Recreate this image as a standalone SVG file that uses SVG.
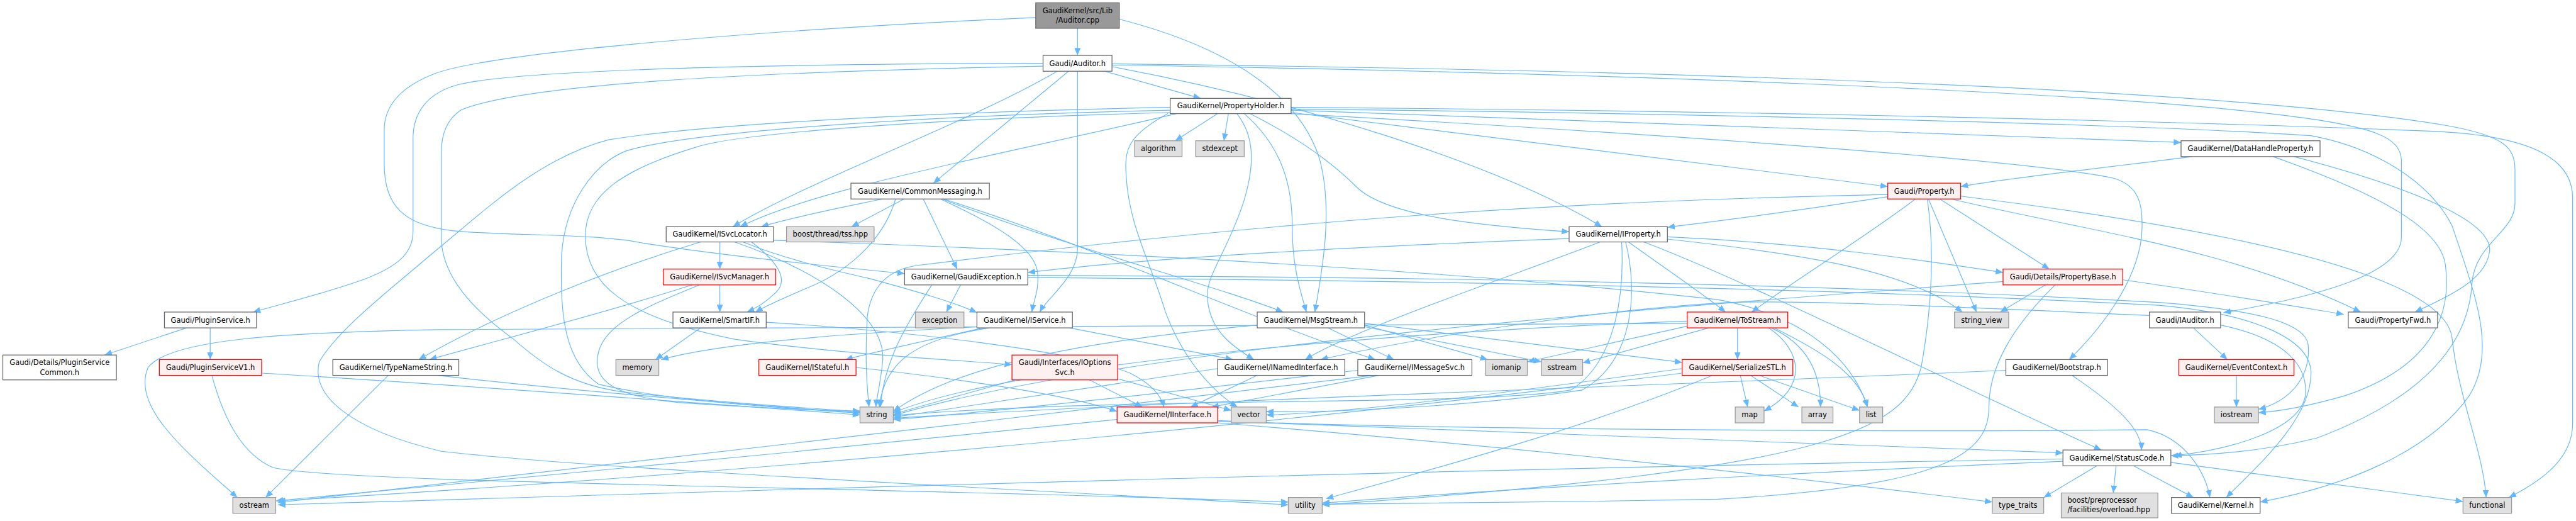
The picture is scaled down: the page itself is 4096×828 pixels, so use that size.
<svg xmlns="http://www.w3.org/2000/svg" width="4096" height="828" viewBox="0 0 4096 828">
<style>
.n rect{fill:#fff;stroke:#666;stroke-width:1.4}
.x rect{fill:#e0e0e0;stroke:#999;stroke-width:1.4}
.r rect{fill:#fff0f0;stroke:#f00;stroke-width:1.4}
.m rect{fill:#999;stroke:#666;stroke-width:1.4}
text{font-family:"DejaVu Sans","Liberation Sans",sans-serif;font-size:12.8px;fill:#000;text-anchor:middle}
#edges path{fill:none;stroke:#63b8ff;stroke-width:1.3;marker-end:url(#a)}
</style>
<defs>
<marker id="a" markerUnits="userSpaceOnUse" markerWidth="14" markerHeight="12" refX="13" refY="6" orient="auto" viewBox="0 0 14 12"><path d="M0,0.5 L13,6 L0,11.5 z" fill="#63b8ff"/></marker>
</defs>
<rect width="4096" height="828" fill="#fff"/>
<g transform="scale(0.898442)">
<g id="edges">
<path d="M1907,50 L1907,98"/>
<path d="M1981,34 C2180,85 2300,170 2335,280 C2360,370 2340,480 2327,552"/>
<path d="M1833,31 C1400,50 880,90 770,130 C705,155 680,190 680,230 L680,290 C680,365 715,398 800,408 C900,418 1050,412 1138,430 C1300,455 1480,472 1601,484"/>
<path d="M1955,126 L2125,174"/>
<path d="M1891,126 L1652,324"/>
<path d="M1871,126 C1720,215 1430,320 1297,401"/>
<path d="M1907,126 L1907,440 C1907,490 1855,525 1840,552"/>
<path d="M1968,118 C2300,180 2650,290 2835,401"/>
<path d="M1846,112 C1400,113 920,122 810,150 C755,165 731,200 731,245 L731,410 C731,450 700,472 650,492 C580,518 500,537 448,552"/>
<path d="M1846,117 C1300,128 920,150 815,195 C790,212 781,240 781,270 L781,420 C781,490 840,550 909,600 C960,645 1010,680 1100,693 C1250,710 1400,720 1522,728"/>
<path d="M1968,115 C2800,128 3700,160 4050,205 C4200,224 4250,242 4250,285 L4250,420 C4250,485 4100,525 3935,553"/>
<path d="M1968,113 C2800,122 3900,150 4330,222 C4430,240 4451,260 4451,300 L4451,360 C4451,410 4381,430 4375,500 C4370,600 4300,700 4100,775 C4000,800 3900,805 3842,806"/>
<path d="M2155,201 L2080,249"/>
<path d="M2174,201 L2166,249"/>
<path d="M2082,201 C1800,268 1450,330 1310,401"/>
<path d="M2212,201 C2300,245 2360,290 2400,330 C2450,380 2600,398 2777,410"/>
<path d="M2202,201 C2270,260 2287,330 2287,400 C2287,470 2300,510 2312,552"/>
<path d="M2285,199 L3341,330"/>
<path d="M2285,195 L3860,252"/>
<path d="M2285,190 C3000,195 3800,212 4300,232 C4500,240 4553,290 4553,350 L4553,750 C4553,810 4500,850 4440,880"/>
<path d="M2285,193 C3000,200 3800,220 4090,240 C4200,260 4300,320 4340,400 C4380,520 4420,620 4370,700 C4300,800 4150,860 4000,888"/>
<path d="M2067,201 C1995,240 1990,265 1993,310 C1998,400 2035,460 2062,550 C2095,640 2150,695 2190,720"/>
<path d="M2189,201 C2220,240 2222,290 2200,360 C2170,450 2132,490 2137,530 C2142,585 2180,612 2219,636"/>
<path d="M2071,190 C1800,195 1300,212 1078,247 C950,280 850,380 763,450 C700,505 600,580 565,640 C550,700 620,760 780,798 C1000,825 1600,855 2280,893"/>
<path d="M2071,195 C1600,205 1210,235 1108,267 C1050,290 1000,360 994,450 C990,560 1000,640 1060,680 C1200,712 1400,722 1522,731"/>
<path d="M2071,199 C1600,212 1300,238 1233,260 C1100,300 1036,345 1036,417 C1036,500 1100,560 1300,600 C1500,628 1700,637 1791,645"/>
<path d="M2285,201 C3000,240 3600,285 3740,315 C3785,328 3795,360 3790,420 C3780,500 3720,580 3662,636"/>
<path d="M1562,352 C1500,365 1420,380 1347,401"/>
<path d="M1600,352 L1507,401"/>
<path d="M1634,352 L1694,476"/>
<path d="M1664,352 C1770,400 1830,440 1836,480 C1840,510 1830,530 1826,552"/>
<path d="M1667,352 C1900,440 2150,505 2271,552"/>
<path d="M1670,352 C1950,440 2200,560 2434,636"/>
<path d="M1585,352 C1565,420 1510,470 1450,500 C1400,522 1360,538 1337,552"/>
<path d="M1274,428 L1274,476"/>
<path d="M1240,428 C1100,470 900,545 741,636"/>
<path d="M1330,428 C1385,470 1395,500 1370,520 C1355,535 1338,545 1322,552"/>
<path d="M1315,428 C1380,455 1460,475 1540,493 C1620,515 1690,535 1729,553"/>
<path d="M1369,425 C1800,440 2500,470 3040,530 C3200,560 3280,640 3305,720"/>
<path d="M1300,428 C1450,480 1570,560 1562,640 C1558,680 1552,700 1550,720"/>
<path d="M1274,504 L1274,552"/>
<path d="M1225,504 C1050,560 850,610 760,636"/>
<path d="M1238,504 C1150,540 1075,570 1060,620 C1045,670 1080,700 1200,712 C1350,722 1450,726 1522,727"/>
<path d="M1240,580 L1160,636"/>
<path d="M1356,570 C1600,585 1900,620 2000,660 C2040,680 2055,700 2060,720"/>
<path d="M1700,504 L1675,552"/>
<path d="M1649,504 C1600,580 1565,640 1558,720"/>
<path d="M1819,487 C2500,490 3200,500 3820,535 C3990,548 4080,570 4085,610 C4090,670 4050,710 3997,724"/>
<path d="M1819,491 C2500,496 3200,508 3820,540 C3990,555 4090,600 4090,660 C4090,740 4000,820 3940,880"/>
<path d="M1740,580 C1650,600 1560,620 1496,636"/>
<path d="M1729,578 C1600,585 1300,600 1170,636"/>
<path d="M1751,580 C1620,600 1565,640 1556,720"/>
<path d="M1893,580 L2182,636"/>
<path d="M1928,672 L2022,720"/>
<path d="M1796,672 C1700,700 1620,720 1581,733"/>
<path d="M1978,670 L2179,726"/>
<path d="M1515,650 C1700,670 1900,700 1977,728"/>
<path d="M1977,742 C1500,790 900,850 488,886"/>
<path d="M2155,745 C2700,765 3300,790 3651,801"/>
<path d="M2155,748 C2800,800 3300,860 3526,888"/>
<path d="M2155,744 C2500,760 3400,765 3800,760 C3870,775 3905,840 3911,880"/>
<path d="M2350,580 L2467,636"/>
<path d="M2415,575 L2633,636"/>
<path d="M2415,578 L2728,640"/>
<path d="M2415,572 L2977,641"/>
<path d="M2225,575 C1950,600 1700,640 1581,728"/>
<path d="M2225,664 L2107,720"/>
<path d="M2155,652 C1900,690 1700,720 1581,738"/>
<path d="M2403,655 C2100,690 1800,725 1581,742"/>
<path d="M2440,664 C2300,690 2200,710 2144,720"/>
<path d="M2430,664 C1800,740 1000,830 492,889"/>
<path d="M3075,580 L3075,636"/>
<path d="M2986,577 L2703,640"/>
<path d="M3024,580 L2801,642"/>
<path d="M3130,580 C3190,620 3200,685 3122,727"/>
<path d="M3135,580 C3200,610 3222,660 3222,720"/>
<path d="M3140,580 C3220,620 3290,660 3305,720"/>
<path d="M2986,568 C2500,585 1800,640 1581,730"/>
<path d="M2986,572 C2000,578 1000,580 780,583 C500,588 300,600 262,650 C232,720 330,800 420,880"/>
<path d="M3031,664 C2800,760 2500,840 2347,882"/>
<path d="M3080,664 L3093,720"/>
<path d="M3098,664 L3183,720"/>
<path d="M3113,664 L3291,726"/>
<path d="M2977,652 C2700,690 2400,730 2241,734"/>
<path d="M2977,660 C2200,760 1200,845 492,886"/>
<path d="M3341,348 C3200,370 3050,390 2951,402"/>
<path d="M3390,352 C3300,420 3200,480 3100,552"/>
<path d="M3413,352 L3498,552"/>
<path d="M3433,352 L3627,476"/>
<path d="M3453,352 C3700,410 3950,440 4178,552"/>
<path d="M3411,352 C3425,450 3418,550 3400,650 C3370,760 3250,830 2340,893"/>
<path d="M3341,344 C2800,355 2300,385 1620,470 C1560,480 1540,520 1535,560 C1530,640 1535,690 1538,720"/>
<path d="M3470,347 C3900,400 4330,480 4340,600 C4350,700 4395,800 4400,880"/>
<path d="M2832,428 C2700,480 2400,580 2310,636"/>
<path d="M2882,428 C2940,470 3000,510 3054,552"/>
<path d="M2909,428 C3100,500 3500,700 3719,796"/>
<path d="M2777,422 C2300,440 2000,460 1819,482"/>
<path d="M2951,419 C3200,430 3400,460 3545,482"/>
<path d="M2951,423 C3200,450 3380,480 3473,552"/>
<path d="M2870,428 C2875,520 2860,640 2780,690 C2600,720 2000,700 1581,735"/>
<path d="M2877,428 C2900,520 2890,640 2800,690 C2600,720 2350,730 2241,728"/>
<path d="M3620,504 L3540,552"/>
<path d="M3757,495 C3900,515 4050,540 4148,556"/>
<path d="M3637,504 C3560,580 3520,650 3520,720 C3520,800 3450,860 3040,883 C2800,888 2500,890 2340,892"/>
<path d="M3545,498 C3000,540 2000,610 1581,735"/>
<path d="M3667,664 C3750,720 3790,760 3790,796"/>
<path d="M3550,655 C3000,680 2000,712 1581,740"/>
<path d="M3880,277 C3700,300 3550,315 3470,330"/>
<path d="M4023,277 C4200,340 4320,400 4328,470 C4340,560 4300,650 4150,700 C4080,720 4030,728 3997,730"/>
<path d="M4060,277 C4300,340 4420,400 4405,450 C4395,500 4320,530 4274,552"/>
<path d="M3882,580 L3942,636"/>
<path d="M3930,575 C4050,600 4085,650 4080,700 C4070,760 3950,795 3848,806"/>
<path d="M3804,558 C3500,545 3200,530 3060,535 C2800,550 2500,600 2337,636"/>
<path d="M3958,664 L3958,720"/>
<path d="M3651,812 C2500,830 1200,872 492,893"/>
<path d="M3711,824 L3617,880"/>
<path d="M3745,824 L3740,872"/>
<path d="M3776,824 L3882,880"/>
<path d="M3842,818 C4000,840 4200,865 4359,887"/>
<path d="M3651,816 C3200,835 2700,862 2340,890"/>
<path d="M330,580 L185,628"/>
<path d="M372,580 L372,636"/>
<path d="M375,664 C390,720 420,800 483,827 C600,855 1500,860 2280,888"/>
<path d="M463,660 C800,680 1200,710 1522,734"/>
<path d="M687,664 L470,880"/>
<path d="M775,664 C1000,690 1300,715 1522,730"/>
</g>
<g id="n0" class="m"><rect x="1833" y="5" width="148" height="45"/><text x="1907" y="23">GaudiKernel/src/Lib</text><text x="1907" y="40">/Auditor.cpp</text></g>
<g id="n1" class="n"><rect x="1846" y="98" width="122" height="28"/><text x="1907" y="116.5">Gaudi/Auditor.h</text></g>
<g id="n2" class="n"><rect x="2071" y="174" width="214" height="27"/><text x="2178" y="192">GaudiKernel/PropertyHolder.h</text></g>
<g id="n3" class="x"><rect x="2008" y="249" width="84" height="28"/><text x="2050" y="267.5">algorithm</text></g>
<g id="n4" class="x"><rect x="2116" y="249" width="86" height="28"/><text x="2159" y="267.5">stdexcept</text></g>
<g id="n5" class="n"><rect x="1506" y="324" width="245" height="28"/><text x="1628.5" y="342.5">GaudiKernel/CommonMessaging.h</text></g>
<g id="n6" class="n"><rect x="3860" y="249" width="246" height="28"/><text x="3983" y="267.5">GaudiKernel/DataHandleProperty.h</text></g>
<g id="n7" class="r"><rect x="3341" y="324" width="129" height="28"/><text x="3405.5" y="342.5">Gaudi/Property.h</text></g>
<g id="n8" class="n"><rect x="1179" y="401" width="190" height="27"/><text x="1274" y="419">GaudiKernel/ISvcLocator.h</text></g>
<g id="n9" class="x"><rect x="1392" y="401" width="155" height="27"/><text x="1469.5" y="419">boost/thread/tss.hpp</text></g>
<g id="n10" class="n"><rect x="2777" y="401" width="174" height="27"/><text x="2864" y="419">GaudiKernel/IProperty.h</text></g>
<g id="n11" class="n"><rect x="291" y="552" width="163" height="28"/><text x="372.5" y="570.5">Gaudi/PluginService.h</text></g>
<g id="n12" class="n"><rect x="5" y="628" width="201" height="44"/><text x="105.5" y="646">Gaudi/Details/PluginService</text><text x="105.5" y="663">Common.h</text></g>
<g id="n13" class="r"><rect x="282" y="636" width="181" height="28"/><text x="372.5" y="654.5">Gaudi/PluginServiceV1.h</text></g>
<g id="n14" class="n"><rect x="589" y="636" width="223" height="28"/><text x="700.5" y="654.5">GaudiKernel/TypeNameString.h</text></g>
<g id="n15" class="x"><rect x="412" y="880" width="76" height="28"/><text x="450" y="898.5">ostream</text></g>
<g id="n16" class="r"><rect x="1174" y="476" width="199" height="28"/><text x="1273.5" y="494.5">GaudiKernel/ISvcManager.h</text></g>
<g id="n17" class="n"><rect x="1191" y="552" width="165" height="28"/><text x="1273.5" y="570.5">GaudiKernel/SmartIF.h</text></g>
<g id="n18" class="x"><rect x="1090" y="636" width="76" height="28"/><text x="1128" y="654.5">memory</text></g>
<g id="n19" class="r"><rect x="1343" y="636" width="172" height="28"/><text x="1429" y="654.5">GaudiKernel/IStateful.h</text></g>
<g id="n20" class="x"><rect x="1522" y="720" width="59" height="28"/><text x="1551.5" y="738.5">string</text></g>
<g id="n21" class="n"><rect x="1601" y="476" width="218" height="28"/><text x="1710" y="494.5">GaudiKernel/GaudiException.h</text></g>
<g id="n22" class="x"><rect x="1620" y="552" width="86" height="28"/><text x="1663" y="570.5">exception</text></g>
<g id="n23" class="n"><rect x="1729" y="552" width="169" height="28"/><text x="1813.5" y="570.5">GaudiKernel/IService.h</text></g>
<g id="n24" class="r"><rect x="1791" y="628" width="187" height="44"/><text x="1884.5" y="646">Gaudi/Interfaces/IOptions</text><text x="1884.5" y="663">Svc.h</text></g>
<g id="n25" class="r"><rect x="1977" y="720" width="178" height="28"/><text x="2066" y="738.5">GaudiKernel/IInterface.h</text></g>
<g id="n26" class="x"><rect x="2179" y="720" width="62" height="28"/><text x="2210" y="738.5">vector</text></g>
<g id="n27" class="n"><rect x="2225" y="552" width="190" height="28"/><text x="2320" y="570.5">GaudiKernel/MsgStream.h</text></g>
<g id="n28" class="n"><rect x="2155" y="636" width="225" height="28"/><text x="2267.5" y="654.5">GaudiKernel/INamedInterface.h</text></g>
<g id="n29" class="x"><rect x="2280" y="880" width="60" height="28"/><text x="2310" y="898.5">utility</text></g>
<g id="n30" class="n"><rect x="2403" y="636" width="202" height="28"/><text x="2504" y="654.5">GaudiKernel/IMessageSvc.h</text></g>
<g id="n31" class="x"><rect x="2629" y="636" width="74" height="28"/><text x="2666" y="654.5">iomanip</text></g>
<g id="n32" class="x"><rect x="2728" y="636" width="73" height="28"/><text x="2764.5" y="654.5">sstream</text></g>
<g id="n33" class="r"><rect x="2986" y="552" width="178" height="28"/><text x="3075" y="570.5">GaudiKernel/ToStream.h</text></g>
<g id="n34" class="r"><rect x="2977" y="636" width="196" height="28"/><text x="3075" y="654.5">GaudiKernel/SerializeSTL.h</text></g>
<g id="n35" class="r"><rect x="3545" y="476" width="212" height="28"/><text x="3651" y="494.5">Gaudi/Details/PropertyBase.h</text></g>
<g id="n36" class="x"><rect x="3459" y="552" width="96" height="28"/><text x="3507" y="570.5">string_view</text></g>
<g id="n37" class="n"><rect x="3804" y="552" width="126" height="28"/><text x="3867" y="570.5">Gaudi/IAuditor.h</text></g>
<g id="n38" class="x"><rect x="3071" y="720" width="51" height="28"/><text x="3096.5" y="738.5">map</text></g>
<g id="n39" class="x"><rect x="3189" y="720" width="55" height="28"/><text x="3216.5" y="738.5">array</text></g>
<g id="n40" class="x"><rect x="3291" y="720" width="41" height="28"/><text x="3311.5" y="738.5">list</text></g>
<g id="n41" class="n"><rect x="3550" y="636" width="180" height="28"/><text x="3640" y="654.5">GaudiKernel/Bootstrap.h</text></g>
<g id="n42" class="n"><rect x="3651" y="796" width="191" height="28"/><text x="3746.5" y="814.5">GaudiKernel/StatusCode.h</text></g>
<g id="n43" class="x"><rect x="3526" y="880" width="91" height="28"/><text x="3571.5" y="898.5">type_traits</text></g>
<g id="n44" class="x"><rect x="3648" y="872" width="171" height="44"/><text x="3659" y="889.5" style="text-anchor:start">boost/preprocessor</text><text x="3659" y="906.5" style="text-anchor:start">/facilities/overload.hpp</text></g>
<g id="n45" class="n"><rect x="4156" y="552" width="158" height="28"/><text x="4235" y="570.5">Gaudi/PropertyFwd.h</text></g>
<g id="n46" class="r"><rect x="3856" y="636" width="204" height="28"/><text x="3958" y="654.5">GaudiKernel/EventContext.h</text></g>
<g id="n47" class="x"><rect x="3919" y="720" width="78" height="28"/><text x="3958" y="738.5">iostream</text></g>
<g id="n48" class="n"><rect x="3843" y="880" width="157" height="28"/><text x="3921.5" y="898.5">GaudiKernel/Kernel.h</text></g>
<g id="n49" class="x"><rect x="4359" y="880" width="86" height="28"/><text x="4402" y="898.5">functional</text></g>
</g>
</svg>
